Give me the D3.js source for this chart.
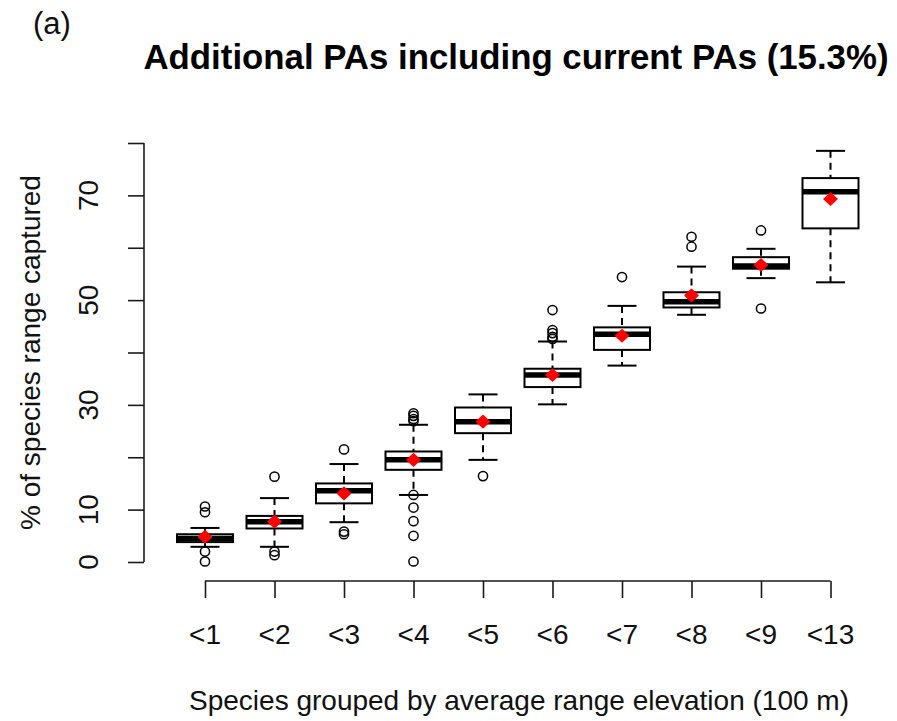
<!DOCTYPE html>
<html><head><meta charset="utf-8">
<script src="https://cdn.jsdelivr.net/npm/d3@7"></script>
<style>body{margin:0;background:#fff}svg{display:block}text{font-family:"Liberation Sans",Arial,sans-serif;fill:#111}</style>
</head><body>
<script>
const categories = ["<1","<2","<3","<4","<5","<6","<7","<8","<9","<13"];
const whiskerLow  = [2.9, 2.9, 7.6, 12.8, 19.5, 30.1, 37.5, 47.2, 54.2, 53.4];
const q1          = [3.8, 6.4, 11.2, 17.6, 24.6, 33.4, 40.5, 48.6, 56.0, 63.7];
const medians     = [4.5, 7.7, 13.6, 19.5, 26.8, 35.7, 43.5, 49.7, 56.5, 70.7];
const q3          = [5.3, 8.8, 15.0, 21.1, 29.5, 36.9, 44.8, 51.5, 58.2, 73.3];
const whiskerHigh = [6.5, 12.2, 18.7, 26.2, 32.0, 42.1, 48.9, 56.4, 59.8, 78.5];
const means       = [4.8, 7.7, 13.1, 19.5, 26.8, 35.7, 43.2, 50.9, 56.7, 69.3];
const outliers = [
  [10.6, 9.5, 2.0, 0.1],
  [16.3, 2.0, 1.3],
  [21.5, 5.8, 5.3],
  [28.4, 27.9, 27.3, 26.9, 12.8, 10.4, 7.8, 5.0, 0.1],
  [16.4],
  [48.1, 44.3, 43.7, 43.0, 42.6],
  [54.4],
  [62.1, 60.2],
  [63.3, 48.4],
  []
];
const yTicks = [0,10,20,30,40,50,60,70,80];
const yTickLabels = [0,10,30,50,70];
const title = "Additional PAs including current PAs (15.3%)";
const panel = "(a)";
const xTitle = "Species grouped by average range elevation (100 m)";
const yTitle = "% of species range captured";

const W = 897, H = 721;
const svg = d3.select("body").append("svg").attr("width", W).attr("height", H);

const x = d3.scalePoint().domain(categories).range([205, 830.5]);
const y = d3.scaleLinear().domain([0, 80]).range([562, 143]);
const boxW = 56, capW = 29;

// axes
const yAxis = d3.axisLeft(y).tickValues(yTicks).tickSize(16).tickFormat("");
const gy = svg.append("g").attr("transform","translate(144,0)").call(yAxis);
gy.select(".domain").attr("d", `M-0,${y(0)}V${y(80)}`);
gy.selectAll("path,line").attr("stroke","#1a1a1a").attr("stroke-width",1.6);
svg.selectAll(".ytl").data(yTickLabels).join("text").attr("class","ytl")
  .attr("transform", d => `translate(88,${y(d)}) rotate(-90)`)
  .attr("text-anchor","middle").attr("dominant-baseline","central")
  .attr("font-size",28).text(d => d);

const xAxis = d3.axisBottom(x).tickSize(17).tickFormat("");
const gx = svg.append("g").attr("transform","translate(0,581)").call(xAxis);
gx.select(".domain").attr("d", `M${x(categories[0])},0H${x(categories[categories.length-1])}`);
gx.selectAll("path,line").attr("stroke","#1a1a1a").attr("stroke-width",1.6);
svg.selectAll(".xtl").data(categories).join("text").attr("class","xtl")
  .attr("x", d => x(d)).attr("y", 644).attr("text-anchor","middle")
  .attr("font-size",28).text(d => d);

// boxes
const data = categories.map((c,i) => ({c, lo:whiskerLow[i], q1:q1[i], med:medians[i], q3:q3[i], hi:whiskerHigh[i], mean:means[i], out:outliers[i]}));
const g = svg.append("g");
const bx = g.selectAll("g.box").data(data).join("g").attr("class","box");
bx.append("line").attr("x1",d=>x(d.c)).attr("x2",d=>x(d.c)).attr("y1",d=>y(d.hi)).attr("y2",d=>y(d.q3))
  .attr("stroke","#000").attr("stroke-width",2).attr("stroke-dasharray","7,5");
bx.append("line").attr("x1",d=>x(d.c)).attr("x2",d=>x(d.c)).attr("y1",d=>y(d.q1)).attr("y2",d=>y(d.lo))
  .attr("stroke","#000").attr("stroke-width",2).attr("stroke-dasharray","7,5");
bx.append("line").attr("x1",d=>x(d.c)-capW/2).attr("x2",d=>x(d.c)+capW/2).attr("y1",d=>y(d.hi)).attr("y2",d=>y(d.hi))
  .attr("stroke","#000").attr("stroke-width",2);
bx.append("line").attr("x1",d=>x(d.c)-capW/2).attr("x2",d=>x(d.c)+capW/2).attr("y1",d=>y(d.lo)).attr("y2",d=>y(d.lo))
  .attr("stroke","#000").attr("stroke-width",2);
bx.append("rect").attr("x",d=>x(d.c)-boxW/2).attr("width",boxW).attr("y",d=>y(d.q3)).attr("height",d=>y(d.q1)-y(d.q3))
  .attr("fill","#fff").attr("stroke","#000").attr("stroke-width",2);
bx.append("line").attr("x1",d=>x(d.c)-boxW/2).attr("x2",d=>x(d.c)+boxW/2).attr("y1",d=>y(d.med)).attr("y2",d=>y(d.med))
  .attr("stroke","#000").attr("stroke-width",5.5);
bx.each(function(d){
  d3.select(this).selectAll("circle.out").data(d.out).join("circle").attr("class","out")
    .attr("cx", x(d.c)).attr("cy", v => y(v)).attr("r",4.6)
    .attr("fill","none").attr("stroke","#000").attr("stroke-width",1.5);
});
bx.append("path").attr("d", d => {
    const cx = x(d.c), cy = y(d.mean);
    return `M${cx-6.5},${cy}L${cx},${cy-6}L${cx+6.5},${cy}L${cx},${cy+6}Z`;
  }).attr("fill","#ff0000").attr("stroke","#ff0000").attr("stroke-width",1.5).attr("stroke-linejoin","round");

// titles
svg.append("text").attr("x",516).attr("y",69).attr("text-anchor","middle")
  .attr("font-size",34.8).attr("font-weight","bold").style("fill","#000").text(title);
svg.append("text").attr("x",33).attr("y",34).attr("font-size",31).text(panel);
svg.append("text").attr("x",519).attr("y",710).attr("text-anchor","middle").attr("font-size",28).text(xTitle);
svg.append("text").attr("transform",`translate(30,${(y(0)+y(80))/2 + 0}) rotate(-90)`)
  .attr("text-anchor","middle").attr("dominant-baseline","central").attr("font-size",28).text(yTitle);
</script>
</body></html>
